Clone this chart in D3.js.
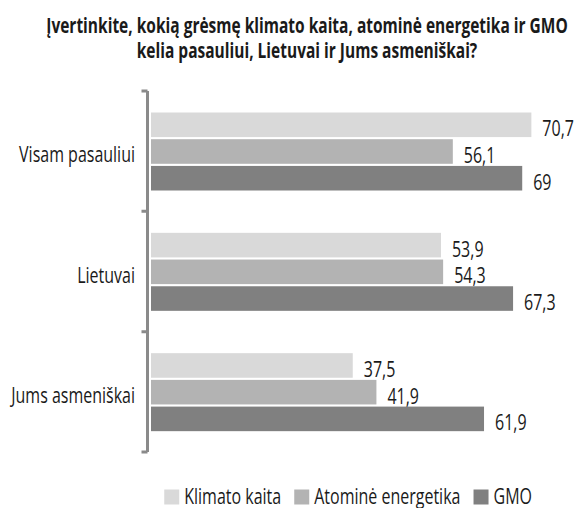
<!DOCTYPE html>
<html>
<head>
<meta charset="utf-8">
<script src="https://cdn.jsdelivr.net/npm/d3@7/dist/d3.min.js"></script>
<style>
  html, body { margin: 0; padding: 0; background: #fff; }
  svg { display: block; }
  text { font-family: "Open Sans", "Noto Sans", sans-serif; fill: #1a1a1a; }
</style>
</head>
<body>
<svg id="chart" width="579" height="508"></svg>
<script>
const titleLines = ["Įvertinkite, kokią grėsmę klimato kaita, atominė energetika ir GMO", "kelia pasauliui, Lietuvai ir Jums asmeniškai?"];
const categories = ["Visam pasauliui", "Lietuvai", "Jums asmeniškai"];
const seriesNames = ["Klimato kaita", "Atominė energetika", "GMO"];
const klimatoKaita = [70.7, 53.9, 37.5];
const atomineEnergetika = [56.1, 54.3, 41.9];
const gmo = [69, 67.3, 61.9];
const valueLabels = [["70,7", "56,1", "69"], ["53,9", "54,3", "67,3"], ["37,5", "41,9", "61,9"]];
const colors = ["#d9d9d9", "#b3b3b3", "#808080"];

const seriesValues = [klimatoKaita, atomineEnergetika, gmo];

const svg = d3.select("#chart");

// measure helpers for emulating a condensed face
function measure(str, size, weight) {
  const t = svg.append("text").style("font-size", size + "px").style("font-weight", weight).text(str);
  const w = t.node().getComputedTextLength();
  t.remove();
  return w;
}
const kBody = 116 / measure("Visam pasauliui", 21, "normal");
const kTitle = 522 / measure(titleLines[0], 22, "bold");

function addText(parent, x, y, str, size, k, anchor, weight) {
  return parent.append("text")
    .attr("transform", `translate(${x},${y}) scale(${k},1)`)
    .attr("text-anchor", anchor || "start")
    .style("font-size", size + "px")
    .style("font-weight", weight || "normal")
    .text(str);
}

// Title (one text element, two lines)
const title = svg.append("text")
  .attr("transform", `translate(307,0) scale(${kTitle},1)`)
  .attr("text-anchor", "middle")
  .style("font-size", "22px")
  .style("font-weight", "bold");
titleLines.forEach((t, i) => title.append("tspan").attr("x", 0).attr("y", 33 + i * 25.5).text(t));

const x = d3.scaleLinear().domain([0, 80]).range([151, 581.4]);
const y = d3.scaleBand().domain(categories).range([91, 452]).padding(0);
const ySub = d3.scaleBand().domain(seriesNames).range([21.5, 99.5]).paddingInner(0.08);

// Bars
const groups = svg.selectAll("g.group").data(categories).join("g")
  .attr("class", "group")
  .attr("transform", c => `translate(0,${y(c)})`);

groups.each(function(c, ci) {
  const g = d3.select(this);
  seriesNames.forEach((s, si) => {
    const v = seriesValues[si][ci];
    g.append("rect")
      .attr("x", x(0))
      .attr("y", ySub(s))
      .attr("width", x(v) - x(0))
      .attr("height", ySub.bandwidth())
      .attr("fill", colors[si]);
    addText(g, x(v) + 11, ySub(s) + ySub.bandwidth() / 2 + 11.5, valueLabels[ci][si], 21, kBody);
  });
  addText(g, 135, y.bandwidth() / 2 + 11, c, 21, kBody, "end");
});

// Axis with ticks at band edges
const axisX = 147.5;
const tickPos = categories.map(c => y(c)).concat([y.range()[1]]);
let d = `M${axisX},${tickPos[0]}V${tickPos[tickPos.length - 1]}`;
tickPos.forEach(p => { d += `M${axisX},${p}H${axisX - 6}`; });
svg.append("path").attr("d", d).attr("fill", "none")
  .attr("stroke", "#8a8a8a").attr("stroke-width", 3);

// Legend (right-aligned so that the last label ends near x = 532)
const legend = svg.append("g");
const sq = 15, gapIn = 5, gapOut = 13;
const itemW = seriesNames.map(s => sq + gapIn + measure(s, 21, "normal") * kBody);
const totalW = d3.sum(itemW) + gapOut * (seriesNames.length - 1);
let lx = 532 - totalW;
seriesNames.forEach((s, i) => {
  legend.append("rect").attr("x", lx).attr("y", 489.5).attr("width", sq).attr("height", sq).attr("fill", colors[i]);
  addText(legend, lx + sq + gapIn, 503.5, s, 21, kBody);
  lx += itemW[i] + gapOut;
});
</script>
</body>
</html>
